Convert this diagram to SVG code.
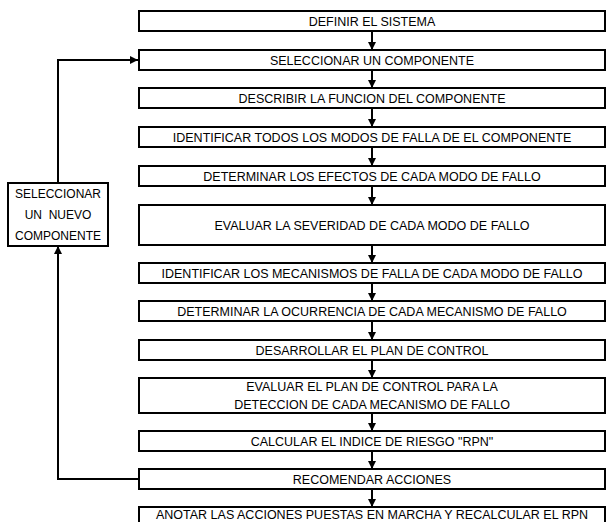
<svg xmlns="http://www.w3.org/2000/svg" width="607" height="522" viewBox="0 0 607 522">
<defs>
<style>
.b{fill:#fff;stroke:#000;stroke-width:2}
.t{font-family:"Liberation Sans",Arial,sans-serif;font-size:12.5px;fill:#000;text-anchor:middle}
.s{font-family:"Liberation Sans",Arial,sans-serif;font-size:12px;fill:#000;text-anchor:middle;white-space:pre}
.c{fill:none;stroke:#000;stroke-width:2}
</style>
<marker id="ah" markerWidth="8" markerHeight="8" refX="8" refY="4" orient="auto" markerUnits="userSpaceOnUse">
<path d="M0,0 L8,4 L0,8 Z" fill="#000"/>
</marker>
</defs>
<rect width="607" height="522" fill="#fff"/>
<g id="connectors">
<path class="c" d="M372,31 V50" marker-end="url(#ah)"/>
<path class="c" d="M372,70 V88" marker-end="url(#ah)"/>
<path class="c" d="M372,108 V127" marker-end="url(#ah)"/>
<path class="c" d="M372,147 V166" marker-end="url(#ah)"/>
<path class="c" d="M372,186 V205" marker-end="url(#ah)"/>
<path class="c" d="M372,245 V263" marker-end="url(#ah)"/>
<path class="c" d="M372,283 V301" marker-end="url(#ah)"/>
<path class="c" d="M372,321 V340" marker-end="url(#ah)"/>
<path class="c" d="M372,360 V378" marker-end="url(#ah)"/>
<path class="c" d="M372,413 V431" marker-end="url(#ah)"/>
<path class="c" d="M372,451 V469" marker-end="url(#ah)"/>
<path class="c" d="M372,489 V507" marker-end="url(#ah)"/>
<path class="c" d="M58,183 V60 H138" marker-end="url(#ah)"/>
<path class="c" d="M139,479 H58 V246" marker-end="url(#ah)"/>
</g>
<g id="n1"><rect class="b" x="139" y="11" width="466" height="20"/><text class="t" x="372" y="25.5">DEFINIR EL SISTEMA</text></g>
<g id="n2"><rect class="b" x="139" y="50" width="466" height="20"/><text class="t" x="372" y="64.5">SELECCIONAR UN COMPONENTE</text></g>
<g id="n3"><rect class="b" x="139" y="88" width="466" height="20"/><text class="t" x="372" y="102.5">DESCRIBIR LA FUNCION DEL COMPONENTE</text></g>
<g id="n4"><rect class="b" x="139" y="127" width="466" height="20"/><text class="t" x="372" y="141.5">IDENTIFICAR TODOS LOS MODOS DE FALLA DE EL COMPONENTE</text></g>
<g id="n5"><rect class="b" x="139" y="166" width="466" height="20"/><text class="t" x="372" y="180.5">DETERMINAR LOS EFECTOS DE CADA MODO DE FALLO</text></g>
<g id="n6"><rect class="b" x="139" y="205" width="466" height="40"/><text class="t" x="372" y="229.5">EVALUAR LA SEVERIDAD DE CADA MODO DE FALLO</text></g>
<g id="n7"><rect class="b" x="139" y="263" width="466" height="20"/><text class="t" x="372" y="277.5">IDENTIFICAR LOS MECANISMOS DE FALLA DE CADA MODO DE FALLO</text></g>
<g id="n8"><rect class="b" x="139" y="301" width="466" height="20"/><text class="t" x="372" y="315.5">DETERMINAR LA OCURRENCIA DE CADA MECANISMO DE FALLO</text></g>
<g id="n9"><rect class="b" x="139" y="340" width="466" height="20"/><text class="t" x="372" y="354.5">DESARROLLAR EL PLAN DE CONTROL</text></g>
<g id="n10"><rect class="b" x="139" y="378" width="466" height="35"/><text class="t" x="372" y="391">EVALUAR EL PLAN DE CONTROL PARA LA</text><text class="t" x="372" y="409">DETECCION DE CADA MECANISMO DE FALLO</text></g>
<g id="n11"><rect class="b" x="139" y="431" width="466" height="20"/><text class="t" x="372" y="445.5">CALCULAR EL INDICE DE RIESGO "RPN"</text></g>
<g id="n12"><rect class="b" x="139" y="469" width="466" height="20"/><text class="t" x="372" y="483.5">RECOMENDAR ACCIONES</text></g>
<g id="n13"><rect class="b" x="139" y="507" width="466" height="22"/><text class="t" x="372" y="518.5">ANOTAR LAS ACCIONES PUESTAS EN MARCHA Y RECALCULAR EL RPN</text></g>
<g id="n14"><rect class="b" x="8" y="183" width="100" height="63"/><text class="s" x="58" y="198">SELECCIONAR</text><text class="s" x="58" y="219">UN  NUEVO</text><text class="s" x="58" y="240">COMPONENTE</text></g>
</svg>
